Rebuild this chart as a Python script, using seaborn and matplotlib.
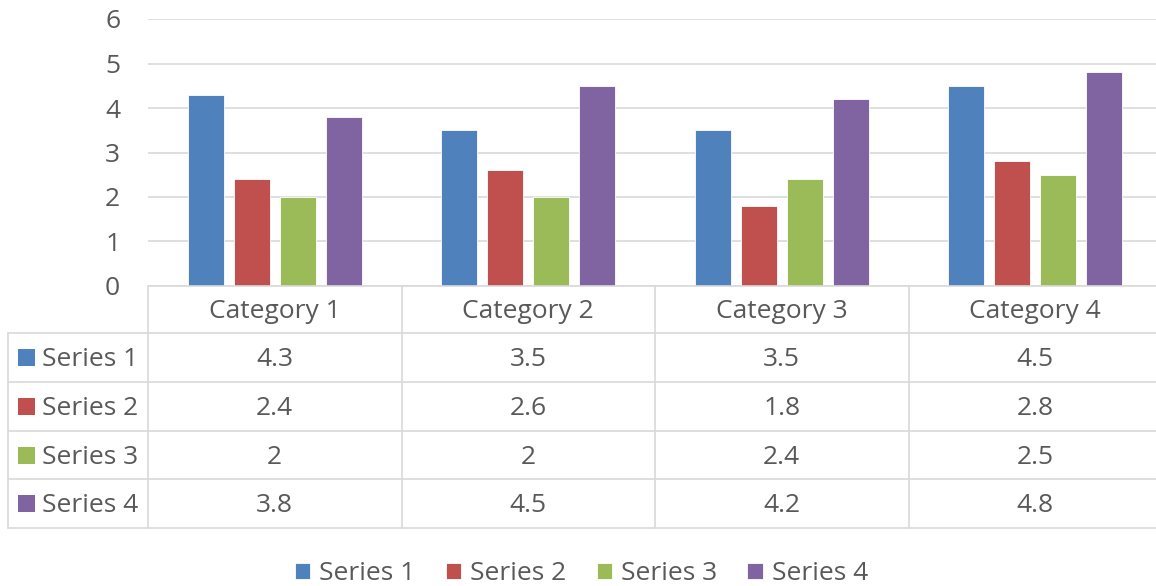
import matplotlib
matplotlib.use("Agg")
import matplotlib.pyplot as plt
import matplotlib.transforms as mtransforms
from matplotlib.patches import Rectangle
import seaborn as sns
import pandas as pd

categories = ["Category 1", "Category 2", "Category 3", "Category 4"]
series_names = ["Series 1", "Series 2", "Series 3", "Series 4"]
series1 = [4.3, 3.5, 3.5, 4.5]
series2 = [2.4, 2.6, 1.8, 2.8]
series3 = [2, 2, 2.4, 2.5]
series4 = [3.8, 4.5, 4.2, 4.8]
y_ticks = [0, 1, 2, 3, 4, 5, 6]
colors = ["#4F81BD", "#C0504D", "#9BBB59", "#8064A2"]

all_series = [series1, series2, series3, series4]
rows = []
for name, vals in zip(series_names, all_series):
    for c, v in zip(categories, vals):
        rows.append({"category": c, "series": name, "value": v})
df = pd.DataFrame(rows)

sns.set_theme(style="white")
plt.rcParams["font.family"] = ["Open Sans", "DejaVu Sans"]
TEXT = "#595959"
GRID = "#D9D9D9"
FS = 19

W, H = 1156, 586
fig = plt.figure(figsize=(W / 100, H / 100), dpi=100)

def fx(px):
    return px / W

def fy(py):
    return 1 - py / H

ax_left, ax_right, ax_top, ax_bottom = 148, 1162, 19, 286
ax = fig.add_axes([fx(ax_left), fy(ax_bottom), fx(ax_right - ax_left), fy(ax_top) - fy(ax_bottom)])

sns.barplot(data=df, x="category", y="value", hue="series", order=categories,
            hue_order=series_names, palette=colors, width=0.727, gap=0.22,
            saturation=1, edgecolor="white", linewidth=0.6, ax=ax, legend=True)

ax.set_xlim(-0.5, len(categories) - 0.5)
ax.set_ylim(0, 6)
ax.set_yticks(y_ticks)
ax.set_yticklabels([str(t) for t in y_ticks], fontsize=FS, color=TEXT)
ax.yaxis.grid(True, color=GRID, linewidth=1.2)
ax.set_axisbelow(True)
ax.tick_params(axis="y", length=0, pad=20)
ax.set_xticks([])
ax.set_xlabel("")
ax.set_ylabel("")
for s in ax.spines.values():
    s.set_visible(False)

handles, labels = ax.get_legend_handles_labels()
ax.get_legend().remove()

# data table
trans = mtransforms.blended_transform_factory(ax.transData, fig.transFigure)
row_bounds = [286, 333, 382, 431, 479, 528]
tbl_left = 8
text_shift = 2
line_kw = dict(color=GRID, linewidth=1.2, clip_on=False)

for i, rb in enumerate(row_bounds):
    x0 = ax_left if i == 0 else tbl_left
    fig.add_artist(plt.Line2D([fx(x0), fx(ax_right)], [fy(rb), fy(rb)], transform=fig.transFigure, **line_kw))
fig.add_artist(plt.Line2D([fx(tbl_left), fx(tbl_left)], [fy(row_bounds[1]), fy(row_bounds[-1])], transform=fig.transFigure, **line_kw))
for k in range(len(categories) + 1):
    xb = k - 0.5
    fig.add_artist(plt.Line2D([xb, xb], [fy(row_bounds[0]), fy(row_bounds[-1])], transform=trans, **line_kw))

hy = fy((row_bounds[0] + row_bounds[1]) / 2 + text_shift)
for i, c in enumerate(categories):
    fig.text(i, hy, c, transform=trans, ha="center", va="center", fontsize=FS, color=TEXT)

for r, (name, vals, col) in enumerate(zip(series_names, all_series, colors)):
    mid = (row_bounds[r + 1] + row_bounds[r + 2]) / 2
    cy = fy(mid + text_shift)
    sq = 17
    fig.add_artist(Rectangle((fx(18), fy(mid) - (sq / 2) / H), fx(sq), sq / H, transform=fig.transFigure,
                             facecolor=col, edgecolor="none"))
    fig.text(fx(42), cy, name, ha="left", va="center", fontsize=FS, color=TEXT)
    for i, v in enumerate(vals):
        fig.text(i, cy, f"{v:g}", transform=trans, ha="center", va="center", fontsize=FS, color=TEXT)

fig.legend(handles, labels, loc="center", bbox_to_anchor=(0.503, fy(574)), ncol=4, frameon=False,
           fontsize=FS, labelcolor=TEXT, handlelength=0.58, handleheight=0.58, handletextpad=0.34,
           columnspacing=1.15)

fig.savefig("out.png", dpi=100)
